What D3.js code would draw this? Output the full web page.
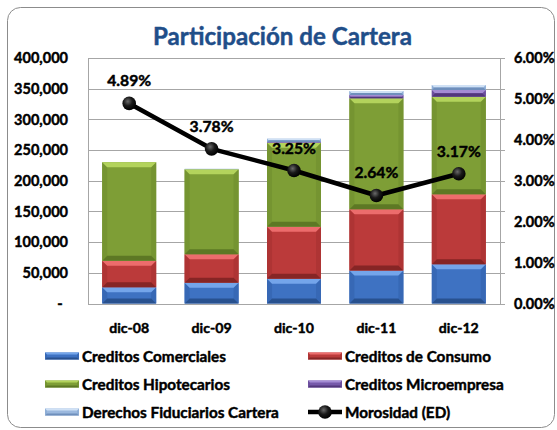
<!DOCTYPE html>
<html><head><meta charset="utf-8">
<script src="https://cdnjs.cloudflare.com/ajax/libs/d3/7.8.5/d3.min.js"></script>
<style>
html,body{margin:0;padding:0;background:#fff;}
svg{display:block;}
text{font-family:Lato,"Open Sans",sans-serif;font-weight:bold;stroke-width:0.45px;stroke-linejoin:round;}
</style></head>
<body>
<svg id="chart" width="557" height="430"></svg>
<script>
const categories = ["dic-08","dic-09","dic-10","dic-11","dic-12"];
const comerciales  = [26500, 34000, 40500, 53600, 64000];
const consumo      = [43000, 46300, 84700, 100000, 114000];
const hipotecarios = [160700, 138400, 136800, 180800, 159000];
const microempresa = [0, 0, 1000, 5300, 10900];
const fiduciarios  = [0, 800, 5600, 6500, 8100];
const morosidad    = [4.89, 3.78, 3.25, 2.64, 3.17];
const leftTicks  = [0,50000,100000,150000,200000,250000,300000,350000,400000];
const rightTicks = [0,1,2,3,4,5,6];
const seriesNames = ["Creditos Comerciales","Creditos de Consumo","Creditos Hipotecarios","Creditos Microempresa","Derechos Fiduciarios Cartera"];
const lineName = "Morosidad (ED)";
const title = "Participación de Cartera";

const palette = [
  {base:"#3e72c2", top:"#74a5ea", bot:"#28518f", side:"#3768b5"},
  {base:"#bb3a3a", top:"#ec6c6c", bot:"#862525", side:"#ae3434"},
  {base:"#7e9e36", top:"#b3d35c", bot:"#5d7824", side:"#759431"},
  {base:"#7659aa", top:"#a48cd4", bot:"#52377c", side:"#6c4f9e"},
  {base:"#9bb8de", top:"#d0e1f5", bot:"#6f8fbc", side:"#8eaed6"}
];

const svg = d3.select("#chart");
const defs = svg.append("defs");
const rg = defs.append("radialGradient").attr("id","ball").attr("cx","0.4").attr("cy","0.35").attr("r","0.65");
rg.append("stop").attr("offset","0").attr("stop-color","#6a6a6a");
rg.append("stop").attr("offset","0.5").attr("stop-color","#1a1a1a");
rg.append("stop").attr("offset","1").attr("stop-color","#000");

function fitSize(str, target){
  const t = svg.append("text").attr("font-size",100).text(str);
  const w = t.node().getComputedTextLength();
  t.remove();
  return 100*target/w;
}
const fsTitle = fitSize(title, 259);
const fsTick  = fitSize("400,000", 54);
const fsX     = fitSize("dic-08", 40);
const fsLeg   = fitSize("Creditos de Consumo", 146);
const fsLab   = fitSize("4.89%", 44);

const plot = {left:88, right:500, top:58, bottom:303.5};

// border
svg.append("rect").attr("x",7.5).attr("y",7.5).attr("width",547).attr("height",420)
  .attr("rx",13).attr("fill","#fff").attr("stroke","#8c8c8c").attr("stroke-width",1);

// title
svg.append("text").attr("x",(153+412)/2).attr("y",44.5).attr("text-anchor","middle")
  .attr("font-size",fsTitle).attr("fill","#1f4e89").attr("stroke","#1f4e89").text(title);

const x = d3.scaleBand().domain(categories).range([plot.left, plot.right]).paddingInner(0.345).paddingOuter(0.1725);
const y = d3.scaleLinear().domain([0,400000]).range([plot.bottom, plot.top]);
const y2 = d3.scaleLinear().domain([0,6]).range([plot.bottom, plot.top]);

// gridlines
svg.append("g").selectAll("line").data(leftTicks).join("line")
  .attr("x1",plot.left).attr("x2",plot.right+5)
  .attr("y1",d=>Math.round(y(d))+0.5).attr("y2",d=>Math.round(y(d))+0.5)
  .attr("stroke","#a6a6a6").attr("stroke-width",1);
// plot frame
svg.append("rect").attr("x",plot.left+0.5).attr("y",Math.round(plot.top)+0.5)
  .attr("width",plot.right-plot.left).attr("height",Math.round(plot.bottom)-Math.round(plot.top))
  .attr("fill","none").attr("stroke","#a6a6a6");

// left axis labels
const fmt = d3.format(",");
svg.append("g").selectAll("text").data(leftTicks).join("text")
  .attr("x",d=>d===0?60:68).attr("y",d=>y(d)).attr("dy","0.36em")
  .attr("text-anchor",d=>d===0?"middle":"end").attr("font-size",fsTick).attr("fill","#000").attr("stroke","#000")
  .text(d=>d===0?"-":fmt(d));
// right axis labels
svg.append("g").selectAll("text").data(rightTicks).join("text")
  .attr("x",514).attr("y",d=>y2(d)).attr("dy","0.36em")
  .attr("font-size",fsTick).attr("fill","#000").attr("stroke","#000")
  .text(d=>d3.format(".2f")(d)+"%");
// x labels
svg.append("g").selectAll("text").data(categories).join("text")
  .attr("x",d=>x(d)+x.bandwidth()/2).attr("y",333)
  .attr("text-anchor","middle").attr("font-size",fsX).attr("fill","#000").attr("stroke","#000").text(d=>d);

// stacked bars
const seriesVals = [comerciales, consumo, hipotecarios, microempresa, fiduciarios];
const rows = categories.map((c,i)=>{const o={cat:c}; seriesNames.forEach((s,j)=>o[s]=seriesVals[j][i]); return o;});
const stacked = d3.stack().keys(seriesNames)(rows);

function bevel(g, x0, y0, w, h, col, bmax){
  const b = Math.min(bmax, h/2, w/2);
  g.append("rect").attr("x",x0).attr("y",y0).attr("width",w).attr("height",h).attr("fill",col.base);
  if (h < 0.5) return;
  g.append("polygon").attr("points",[[x0,y0],[x0+b,y0+b],[x0+b,y0+h-b],[x0,y0+h]].join(" ")).attr("fill",col.side);
  g.append("polygon").attr("points",[[x0+w,y0],[x0+w-b,y0+b],[x0+w-b,y0+h-b],[x0+w,y0+h]].join(" ")).attr("fill",col.side);
  g.append("polygon").attr("points",[[x0,y0],[x0+w,y0],[x0+w-b,y0+b],[x0+b,y0+b]].join(" ")).attr("fill",col.top);
  g.append("polygon").attr("points",[[x0,y0+h],[x0+w,y0+h],[x0+w-b,y0+h-b],[x0+b,y0+h-b]].join(" ")).attr("fill",col.bot);
}

const barsG = svg.append("g");
stacked.forEach((s,si)=>{
  s.forEach(d=>{
    const y0 = y(d[1]), h = y(d[0]) - y(d[1]);
    if (h <= 0) return;
    bevel(barsG, x(d.data.cat), y0, x.bandwidth(), h, palette[si], 5);
  });
});

// line
const pts = categories.map((c,i)=>[x(c)+x.bandwidth()/2, y2(morosidad[i])]);
svg.append("path").attr("d", d3.line()(pts)).attr("fill","none").attr("stroke","#000")
  .attr("stroke-width",4.5).attr("stroke-linejoin","round");
svg.append("g").selectAll("circle").data(pts).join("circle")
  .attr("cx",d=>d[0]).attr("cy",d=>d[1]).attr("r",6.8).attr("fill","url(#ball)");
svg.append("g").selectAll("text").data(pts).join("text")
  .attr("x",d=>d[0]).attr("y",d=>d[1]-17).attr("text-anchor","middle")
  .attr("font-size",fsLab).attr("fill","#000").attr("stroke","#000")
  .text((d,i)=>d3.format(".2f")(morosidad[i])+"%");

// legend
const legItems = [
  {name:seriesNames[0], type:"bar", col:palette[0], cx:45, cy:356},
  {name:seriesNames[1], type:"bar", col:palette[1], cx:308, cy:356},
  {name:seriesNames[2], type:"bar", col:palette[2], cx:45, cy:384},
  {name:seriesNames[3], type:"bar", col:palette[3], cx:308, cy:384},
  {name:seriesNames[4], type:"bar", col:palette[4], cx:45, cy:412},
  {name:lineName, type:"line", cx:308, cy:412}
];
const legG = svg.append("g");
legItems.forEach(it=>{
  if (it.type==="bar"){
    bevel(legG, it.cx, it.cy-3.5, 34, 7, it.col, 2);
  } else {
    legG.append("line").attr("x1",it.cx).attr("x2",it.cx+34).attr("y1",it.cy).attr("y2",it.cy)
      .attr("stroke","#000").attr("stroke-width",4.5);
    legG.append("circle").attr("cx",it.cx+17).attr("cy",it.cy).attr("r",6.8).attr("fill","url(#ball)");
  }
  legG.append("text").attr("x",it.cx+37).attr("y",it.cy).attr("dy","0.36em")
    .attr("font-size",fsLeg).attr("fill","#000").attr("stroke","#000").text(it.name);
});
</script>
</body></html>
